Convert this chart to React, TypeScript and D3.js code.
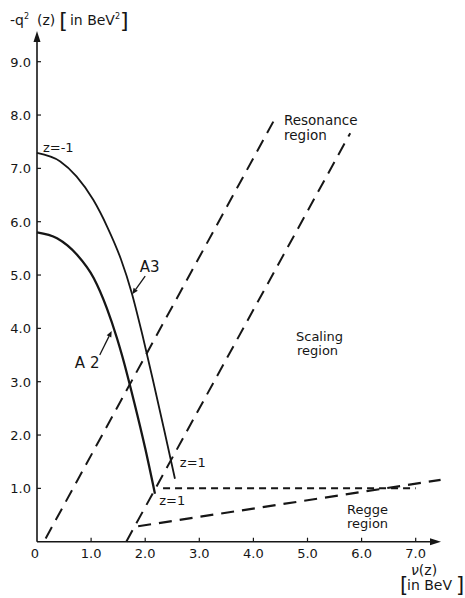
import React from "react";
import { scaleLinear, line, curveMonotoneX } from "d3";

// axis ticks
const X_TICKS = [0, 1, 2, 3, 4, 5, 6, 7];
const X_TICK_LABELS = ["0", "1.0", "2.0", "3.0", "4.0", "5.0", "6.0", "7.0"];
const Y_TICKS = [1, 2, 3, 4, 5, 6, 7, 8, 9];
const Y_TICK_LABELS = ["1.0", "2.0", "3.0", "4.0", "5.0", "6.0", "7.0", "8.0", "9.0"];

// A3 curve (nu, -q^2), z from -1 to 1
const A3_NU = [0, 0.43, 0.73, 1.04, 1.3, 1.55, 1.75, 1.95, 2.15, 2.35, 2.55];
const A3_Q2 = [7.29, 7.13, 6.85, 6.41, 5.9, 5.3, 4.67, 3.87, 3.0, 2.1, 1.18];

// A2 curve
const A2_NU = [0, 0.37, 0.74, 1.05, 1.29, 1.48, 1.57, 1.8, 2.0, 2.18];
const A2_Q2 = [5.8, 5.69, 5.38, 4.94, 4.38, 3.81, 3.5, 2.6, 1.75, 0.9];

// region boundaries (dashed)
const RES_LEFT_NU = [0.16, 4.37];
const RES_LEFT_Q2 = [0.06, 7.88];
const RES_RIGHT_NU = [1.65, 5.79];
const RES_RIGHT_Q2 = [0, 7.66];
const FLAT_NU = [2.33, 7.0];
const FLAT_Q2 = [1.0, 1.0];
const REGGE_NU = [1.87, 7.46];
const REGGE_Q2 = [0.29, 1.16];

const zip = (a: number[], b: number[]) => a.map((v, i) => [v, b[i]] as [number, number]);

export default function App() {
  const width = 465;
  const height = 598;
  const x = scaleLinear().domain([0, 7]).range([37, 415.7]);
  const y = scaleLinear().domain([0, 9]).range([541.7, 61.7]);

  const smooth = line<[number, number]>()
    .x(d => x(d[0]))
    .y(d => y(d[1]))
    .curve(curveMonotoneX);
  const straight = line<[number, number]>()
    .x(d => x(d[0]))
    .y(d => y(d[1]));

  const font = "'DejaVu Sans', Verdana, sans-serif";
  const ink = "#161616";

  const x0 = x(0);
  const y0 = y(0);

  // little annotation arrows, data units
  const arrow = (from: [number, number], to: [number, number], key: string) => {
    const fx = x(from[0]), fy = y(from[1]);
    const tx = x(to[0]), ty = y(to[1]);
    const ang = Math.atan2(ty - fy, tx - fx);
    const L = 6, W = 2.6;
    const bx = tx - L * Math.cos(ang), by = ty - L * Math.sin(ang);
    const p1 = [bx + W * Math.sin(ang), by - W * Math.cos(ang)];
    const p2 = [bx - W * Math.sin(ang), by + W * Math.cos(ang)];
    return (
      <g key={key}>
        <line x1={fx} y1={fy} x2={bx} y2={by} stroke={ink} strokeWidth={1.3} />
        <path d={`M${tx},${ty}L${p1[0]},${p1[1]}L${p2[0]},${p2[1]}Z`} fill={ink} />
      </g>
    );
  };

  return (
    <svg
      width={width}
      height={height}
      style={{ position: "absolute", left: 0, top: 0, background: "#fff" }}
      fontFamily={font}
      fill={ink}
    >
      {/* axes */}
      <line x1={x0} y1={y0} x2={433} y2={y0} stroke={ink} strokeWidth={1.6} />
      <path d={`M441,${y0}L430,${y0 - 3.5}L430,${y0 + 3.5}Z`} fill={ink} />
      <line x1={x0} y1={y0} x2={x0} y2={40} stroke={ink} strokeWidth={1.6} />
      <path d={`M${x0},31L${x0 - 3.5},42L${x0 + 3.5},42Z`} fill={ink} />

      {X_TICKS.map((t, i) => (
        <g key={"xt" + t}>
          {t > 0 && <line x1={x(t)} x2={x(t)} y1={y0} y2={y0 - 4} stroke={ink} strokeWidth={1.2} />}
          <text x={x(t) - (t === 0 ? 2 : 0)} y={558} fontSize={13} textAnchor="middle">
            {X_TICK_LABELS[i]}
          </text>
        </g>
      ))}
      {Y_TICKS.map((t, i) => (
        <g key={"yt" + t}>
          <line x1={x0} x2={x0 + 4} y1={y(t)} y2={y(t)} stroke={ink} strokeWidth={1.2} />
          <text x={31} y={y(t) + 5} fontSize={13} textAnchor="end">
            {Y_TICK_LABELS[i]}
          </text>
        </g>
      ))}

      {/* axis titles */}
      <text x={10} y={25} fontSize={14}>
        -q<tspan fontSize={8} dy={-6}>2</tspan>
        <tspan dy={6} dx={8}>(z)</tspan>
        <tspan fontSize={22} dx={4} dy={3}>[</tspan>
        <tspan dy={-3} dx={2}>in BeV</tspan>
        <tspan fontSize={8} dy={-6}>2</tspan>
        <tspan fontSize={22} dy={9}>]</tspan>
      </text>
      <text x={411} y={575} fontSize={14} fontStyle="italic">
        ν<tspan fontStyle="normal">(z)</tspan>
      </text>
      <text x={400} y={592} fontSize={21}>[</text>
      <text x={407} y={590} fontSize={14}>in BeV</text>
      <text x={456} y={592} fontSize={21}>]</text>

      {/* A3 and A2 curves */}
      <path d={smooth(zip(A3_NU, A3_Q2)) ?? ""} fill="none" stroke={ink} strokeWidth={1.8} />
      <path d={smooth(zip(A2_NU, A2_Q2)) ?? ""} fill="none" stroke={ink} strokeWidth={2.3} />

      {/* dashed region boundaries */}
      <path d={straight(zip(RES_LEFT_NU, RES_LEFT_Q2)) ?? ""} fill="none" stroke={ink} strokeWidth={2} strokeDasharray="13 8" />
      <path d={straight(zip(RES_RIGHT_NU, RES_RIGHT_Q2)) ?? ""} fill="none" stroke={ink} strokeWidth={2} strokeDasharray="13 8" />
      <path d={straight(zip(FLAT_NU, FLAT_Q2)) ?? ""} fill="none" stroke={ink} strokeWidth={2} strokeDasharray="7 5" />
      <path d={straight(zip(REGGE_NU, REGGE_Q2)) ?? ""} fill="none" stroke={ink} strokeWidth={2.2} strokeDasharray="13 8" />

      {/* labels */}
      <text x={x(0.11)} y={y(7.3)} fontSize={13}>z=-1</text>
      <text x={x(2.64)} y={y(1.4)} fontSize={13}>z=1</text>
      <text x={x(2.26)} y={y(0.69)} fontSize={13}>z=1</text>
      <text x={x(1.9)} y={y(5.05)} fontSize={15}>A3</text>
      <text x={x(0.7)} y={y(3.25)} fontSize={15}>A 2</text>
      {arrow([2.0, 4.98], [1.76, 4.64], "a3")}
      {arrow([1.16, 3.5], [1.38, 3.95], "a2")}

      <text x={284} y={125} fontSize={13.5}>Resonance</text>
      <text x={284} y={139.5} fontSize={13.5}>region</text>
      <text x={296} y={341} fontSize={13}>Scaling</text>
      <text x={297} y={355} fontSize={13}>region</text>
      <text x={347} y={514} fontSize={13}>Regge</text>
      <text x={347} y={527.5} fontSize={13}>region</text>
    </svg>
  );
}
